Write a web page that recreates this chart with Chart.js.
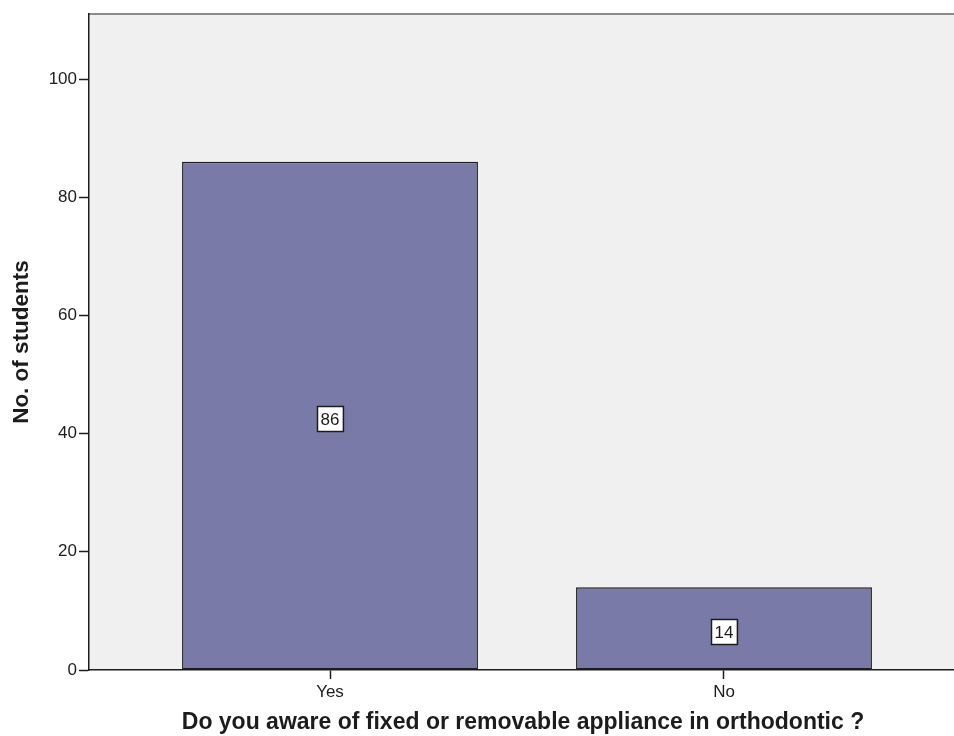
<!DOCTYPE html>
<html>
<head>
<meta charset="utf-8">
<script src="https://cdn.jsdelivr.net/npm/chart.js@4.4.1/dist/chart.umd.min.js"></script>
<style>
  html, body { margin: 0; padding: 0; background: #ffffff; width: 954px; height: 736px; overflow: hidden; }
  #wrap { position: relative; width: 958px; height: 736px; }
</style>
</head>
<body>
<div id="wrap"><canvas id="chart" width="958" height="736"></canvas></div>
<script>
// Survey answers and student counts
const categories = ['Yes', 'No'];
const counts = [86, 14];

// Value axis
const yTickValues = [0, 20, 40, 60, 80, 100];
const yMax = 111;

// Axis titles
const yTitle = 'No. of students';
const xTitle = 'Do you aware of fixed or removable appliance in orthodontic ?';

const FONT = "'Liberation Sans', Arial, Helvetica, sans-serif";
const INK = '#1c1c1c';

// Grey plot panel with a thin rule along its top edge
const plotPanel = {
  id: 'plotPanel',
  beforeDraw(chart) {
    const { ctx, chartArea: a } = chart;
    ctx.save();
    ctx.fillStyle = '#f0f0f0';
    ctx.fillRect(a.left, a.top, a.right - a.left, a.bottom - a.top);
    ctx.strokeStyle = '#8c8c8c';
    ctx.lineWidth = 2;
    ctx.beginPath();
    ctx.moveTo(a.left, a.top);
    ctx.lineTo(a.right, a.top);
    ctx.stroke();
    ctx.restore();
  }
};

// Boxed count label in the middle of each bar
const boxedLabels = {
  id: 'boxedLabels',
  afterDatasetsDraw(chart) {
    const { ctx } = chart;
    const meta = chart.getDatasetMeta(0);
    ctx.save();
    ctx.font = '17px ' + FONT;
    ctx.textAlign = 'center';
    ctx.textBaseline = 'middle';
    meta.data.forEach((bar, i) => {
      const text = String(counts[i]);
      const cx = bar.x;
      const cy = (bar.y + bar.base) / 2 + 3;
      const w = ctx.measureText(text).width + 7;
      const h = 25;
      const left = Math.round(cx - w / 2) + 0.5;
      const top = Math.round(cy - h / 2) + 0.5;
      ctx.fillStyle = '#ffffff';
      ctx.fillRect(left, top, w, h);
      ctx.strokeStyle = INK;
      ctx.lineWidth = 1.5;
      ctx.strokeRect(left, top, w, h);
      ctx.fillStyle = INK;
      ctx.fillText(text, cx, cy + 1.5);
    });
    ctx.restore();
  }
};

new Chart(document.getElementById('chart'), {
  type: 'bar',
  data: {
    datasets: [{
      data: counts.map((v, i) => ({ x: i + 1, y: v })),
      backgroundColor: '#7a7aa8',
      borderColor: INK,
      borderWidth: 1.5,
      borderSkipped: false,
      categoryPercentage: 1,
      barPercentage: 0.751
    }]
  },
  options: {
    responsive: false,
    animation: false,
    layout: { padding: { top: 14, right: 1, bottom: 0, left: 0 } },
    plugins: {
      legend: { display: false },
      tooltip: { enabled: false }
    },
    scales: {
      x: {
        type: 'linear',
        min: 0.3883,
        max: 2.5914,
        offset: false,
        afterBuildTicks(scale) {
          scale.ticks = categories.map((_, i) => ({ value: i + 1 }));
        },
        afterFit(scale) { scale.height = 66; },
        grid: {
          display: true,
          drawOnChartArea: false,
          drawTicks: true,
          tickLength: 9,
          tickWidth: 1.5,
          tickColor: INK,
          offset: false
        },
        border: { display: true, color: INK, width: 1.5 },
        ticks: {
          autoSkip: false,
          maxRotation: 0,
          padding: 3,
          color: INK,
          font: { family: FONT, size: 17 },
          callback: (v) => categories[Math.round(v) - 1] ?? ''
        },
        title: {
          display: true,
          text: xTitle,
          color: INK,
          font: { family: FONT, size: 23, weight: 'bold' },
          padding: { top: 0, bottom: 0 }
        }
      },
      y: {
        min: 0,
        max: yMax,
        afterBuildTicks(scale) {
          scale.ticks = yTickValues.map(v => ({ value: v }));
        },
        afterFit(scale) { scale.width = 89; },
        grid: {
          display: true,
          drawOnChartArea: false,
          drawTicks: true,
          tickLength: 10,
          tickWidth: 1.5,
          tickColor: INK
        },
        border: { display: true, color: INK, width: 1.5 },
        ticks: {
          padding: 2,
          color: INK,
          font: { family: FONT, size: 17 }
        },
        title: {
          display: true,
          text: yTitle,
          color: INK,
          font: { family: FONT, size: 22.5, weight: 'bold' },
          padding: { top: 8, bottom: 0 }
        }
      }
    }
  },
  plugins: [plotPanel, boxedLabels]
});
</script>
</body>
</html>
